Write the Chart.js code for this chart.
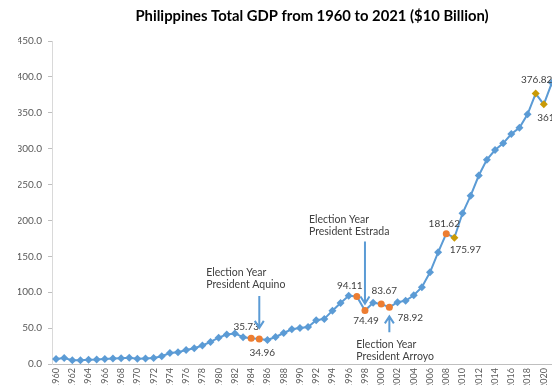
<!DOCTYPE html>
<html>
<head>
<meta charset="utf-8">
<script src="https://cdn.jsdelivr.net/npm/chart.js@4.4.1/dist/chart.umd.min.js"></script>
<style>
  html, body { margin: 0; padding: 0; background: #fff; overflow: hidden; }
  #wrap { width: 552px; height: 385px; overflow: hidden; position: relative; }
  canvas { display: block; }
</style>
</head>
<body>
<div id="wrap"><canvas id="gdpChart" width="570" height="400"></canvas></div>
<script>
// Philippines total GDP, 1960-2021
const years = [];
for (let y = 1960; y <= 2021; y++) years.push(String(y));

const gdp = [
  7.0, 8.2, 5.3, 5.2, 6.0, 6.3, 6.9, 7.5, 8.1, 8.6,
  7.2, 7.8, 8.5, 10.8, 15.2, 16.5, 19.6, 21.9, 25.8, 30.8,
  36.6, 41.2, 42.6, 37.3, 35.73, 34.96, 33.5, 37.6, 43.2, 48.3,
  50.0, 51.6, 61.0, 62.8, 74.3, 85.1, 95.0, 94.11, 74.49, 85.4,
  83.67, 78.92, 86.2, 88.1, 95.8, 107.0, 127.7, 155.6, 181.62, 175.97,
  210.0, 234.5, 262.6, 284.7, 298.1, 307.4, 320.4, 329.2, 347.8, 376.82,
  361.75, 392.0
];

const yTicks = [0, 50, 100, 150, 200, 250, 300, 350, 400, 450];

// highlighted years
const orangeYears = ['1984', '1985', '1997', '1998', '2000', '2001', '2008'];
const goldYears = ['2009', '2019', '2020'];
const labeledYears = ['1984', '1985', '1997', '1998', '2000', '2001', '2008', '2009', '2019', '2020'];

const BLUE = '#5B9BD5';
const ORANGE = '#ED7D31';
const GOLD = '#C99A06';
const TEXT = '#404040';
const FONT = 'Lato, "Open Sans", sans-serif';

// where each value label sits relative to its point (px)
const labelOffset = {
  '1984': [-5, -12], '1985': [3, 14], '1997': [-7, -11], '1998': [1, 10],
  '2000': [3, -13], '2001': [21, 10], '2008': [-2, -10], '2009': [11, 12],
  '2019': [1, -14], '2020': [9, 13]
};

// election notes: text block and arrow, relative to the point they mark
const notes = [
  { year: '1985', lines: ['Election Year', 'President Aquino'], dx: -53, dy: [-66, -54], arrow: [-43, -11] },
  { year: '1998', lines: ['Election Year', 'President Estrada'], dx: -56, dy: [-91, -79], arrow: [-69, -7] },
  { year: '2001', lines: ['Election Year', 'President Arroyo'], dx: -33, dy: [37, 49], arrow: [25, 9] }
];

const pointColor = years.map(y => orangeYears.includes(y) ? ORANGE : goldYears.includes(y) ? GOLD : BLUE);
const pointShape = years.map(y => orangeYears.includes(y) ? 'circle' : 'rectRot');

const annotate = {
  id: 'annotate',
  afterDatasetsDraw(chart) {
    const ctx = chart.ctx;
    const pts = chart.getDatasetMeta(0).data;
    ctx.save();
    ctx.fillStyle = TEXT;
    ctx.font = '10px ' + FONT;
    ctx.textAlign = 'center';
    ctx.textBaseline = 'middle';
    labeledYears.forEach(y => {
      const i = years.indexOf(y);
      const p = pts[i];
      const off = labelOffset[y];
      ctx.fillText(gdp[i].toFixed(2), p.x + off[0], p.y + off[1]);
    });

    ctx.font = '10.5px ' + FONT;
    ctx.textAlign = 'left';
    notes.forEach(n => {
      const p = pts[years.indexOf(n.year)];
      n.lines.forEach((t, k) => ctx.fillText(t, p.x + n.dx, p.y + n.dy[k]));
      // arrow from tail to tip
      const y0 = p.y + n.arrow[0], y1 = p.y + n.arrow[1];
      const dir = y1 > y0 ? 1 : -1;
      ctx.strokeStyle = BLUE;
      ctx.lineWidth = 2;
      ctx.beginPath();
      ctx.moveTo(p.x, y0);
      ctx.lineTo(p.x, y1);
      ctx.moveTo(p.x - 4.5, y1 - dir * 7);
      ctx.lineTo(p.x, y1);
      ctx.lineTo(p.x + 4.5, y1 - dir * 7);
      ctx.stroke();
    });

    // chart title
    ctx.fillStyle = '#000';
    ctx.font = 'bold 14.8px ' + FONT;
    ctx.textAlign = 'center';
    ctx.fillText('Philippines Total GDP from 1960 to 2021 ($10 Billion)', 312, 16);
    ctx.restore();
  }
};

new Chart(document.getElementById('gdpChart'), {
  type: 'line',
  data: {
    labels: years,
    datasets: [{
      data: gdp,
      borderColor: BLUE,
      borderWidth: 2,
      tension: 0,
      pointStyle: pointShape,
      pointRadius: years.map(y => orangeYears.includes(y) ? 3.5 : 4),
      pointBackgroundColor: pointColor,
      pointBorderColor: pointColor,
      pointBorderWidth: 0
    }]
  },
  options: {
    responsive: false,
    animation: false,
    layout: { padding: { left: 18, top: 41, right: 14, bottom: 0 } },
    plugins: { legend: { display: false }, tooltip: { enabled: false } },
    scales: {
      x: {
        offset: true,
        grid: { display: false, drawTicks: false },
        border: { color: '#BFBFBF', width: 1 },
        ticks: {
          autoSkip: false,
          minRotation: 90,
          maxRotation: 90,
          padding: 4,
          color: '#595959',
          font: { family: FONT, size: 9 },
          callback: (v, i) => (i % 2 === 0 ? years[i] : '')
        },
        afterFit: s => { s.height = 36; }
      },
      y: {
        min: yTicks[0],
        max: yTicks[yTicks.length - 1],
        afterBuildTicks: s => { s.ticks = yTicks.map(v => ({ value: v })); },
        grid: { drawOnChartArea: false, drawTicks: true, tickLength: 4, color: '#BFBFBF' },
        border: { color: '#D9D9D9', width: 1 },
        ticks: {
          padding: 6,
          color: '#595959',
          font: { family: FONT, size: 10 },
          callback: v => Number(v).toFixed(1)
        },
        afterFit: s => { s.width = 34; }
      }
    }
  },
  plugins: [annotate]
});
</script>
</body>
</html>
